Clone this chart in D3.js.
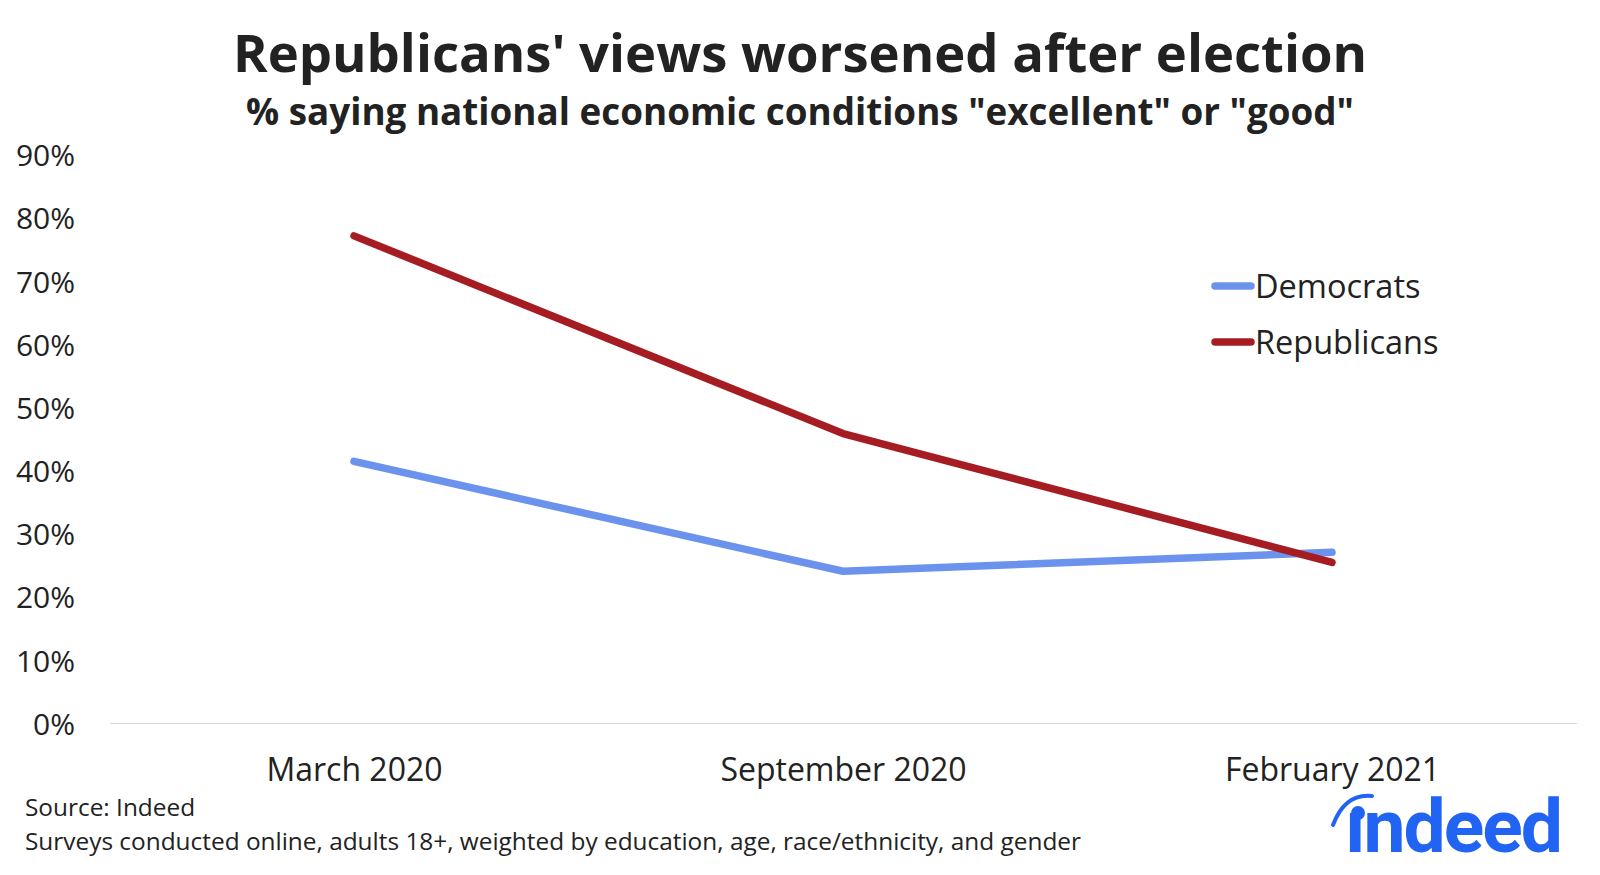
<!DOCTYPE html>
<html>
<head>
<meta charset="utf-8">
<title>Republicans' views worsened after election</title>
<script src="https://cdn.jsdelivr.net/npm/d3@7"></script>
<style>
body { margin: 0; background: #fff; }
text { font-family: "Open Sans", "Noto Sans", sans-serif; fill: #222; }
.title { font-weight: 700; }
</style>
</head>
<body>
<script>
var periods = ["March 2020", "September 2020", "February 2021"];
var democrats = [41.5, 24.1, 27.1];
var republicans = [77.2, 45.9, 25.5];
var yTicks = [0, 10, 20, 30, 40, 50, 60, 70, 80, 90];

var series = [
  {name: "Democrats", values: democrats, color: "#6b93ee"},
  {name: "Republicans", values: republicans, color: "#a51d23"}
];

var width = 1600, height = 875;
var svg = d3.select("body").append("svg")
  .attr("width", width).attr("height", height);

var x = d3.scalePoint().domain(periods).range([354, 1332]);
var y = d3.scaleLinear().domain([0, 90]).range([723.5, 155]);

svg.append("text").attr("class", "title")
  .attr("x", 800).attr("y", 72).attr("text-anchor", "middle")
  .style("font-size", "52.6px").text("Republicans' views worsened after election");
svg.append("text").attr("class", "title")
  .attr("x", 800).attr("y", 125).attr("text-anchor", "middle")
  .style("font-size", "36.8px").text("% saying national economic conditions \"excellent\" or \"good\"");

// baseline
svg.append("line")
  .attr("x1", 110).attr("x2", 1577)
  .attr("y1", y(0)).attr("y2", y(0))
  .attr("stroke", "#d9d9d9").attr("stroke-width", 1.2);

// y axis labels
var yAxis = d3.axisLeft(y).tickValues(yTicks).tickSize(0).tickPadding(0)
  .tickFormat(function(d) { return d + "%"; });
var gy = svg.append("g").attr("transform", "translate(75,0)").call(yAxis);
gy.select(".domain").remove();
gy.selectAll("text").style("font-size", "30px").style("fill", "#222")
  .attr("dy", "0.36em");

// x axis labels
var xAxis = d3.axisBottom(x).tickSize(0).tickPadding(0);
var gx = svg.append("g").attr("transform", "translate(0,769)").call(xAxis);
gx.select(".domain").remove();
gx.selectAll("text").style("font-size", "32px").style("fill", "#222")
  .attr("dy", "0.36em");

var line = d3.line()
  .x(function(d, i) { return x(periods[i]); })
  .y(function(d) { return y(d); });

series.forEach(function(s) {
  svg.append("path")
    .datum(s.values)
    .attr("d", line)
    .attr("fill", "none")
    .attr("stroke", s.color)
    .attr("stroke-width", 7.5)
    .attr("stroke-linecap", "round")
    .attr("stroke-linejoin", "round");
});

// legend
var legend = svg.append("g").attr("transform", "translate(1212,286)");
series.forEach(function(s, i) {
  var g = legend.append("g").attr("transform", "translate(0," + (i * 56) + ")");
  g.append("line").attr("x1", 3).attr("x2", 39).attr("y1", 0).attr("y2", 0)
    .attr("stroke", s.color).attr("stroke-width", 7.5).attr("stroke-linecap", "round");
  g.append("text").attr("x", 43).attr("dy", "0.36em")
    .style("font-size", "32.5px").text(s.name);
});

// footnotes
svg.append("text").attr("x", 25).attr("y", 816)
  .style("font-size", "24.4px").text("Source: Indeed");
svg.append("text").attr("x", 25).attr("y", 850)
  .style("font-size", "24.4px")
  .text("Surveys conducted online, adults 18+, weighted by education, age, race/ethnicity, and gender");

// indeed logo
var logo = svg.append("g").attr("transform", "translate(27,17)");
logo.append("text").attr("x", 1318).attr("y", 835)
  .style("font-family", "Roboto, 'Noto Sans', sans-serif")
  .style("font-weight", "700").style("font-size", "75px")
  .style("fill", "#2164f3").style("letter-spacing", "-2px").text("ındeed");
logo.append("circle").attr("cx", 1331).attr("cy", 796).attr("r", 7).attr("fill", "#2164f3");
logo.append("path")
  .attr("d", "M1306,808 Q1318,776 1345,779")
  .attr("fill", "none").attr("stroke", "#2164f3").attr("stroke-width", 4)
  .attr("stroke-linecap", "round");
</script>
</body>
</html>
